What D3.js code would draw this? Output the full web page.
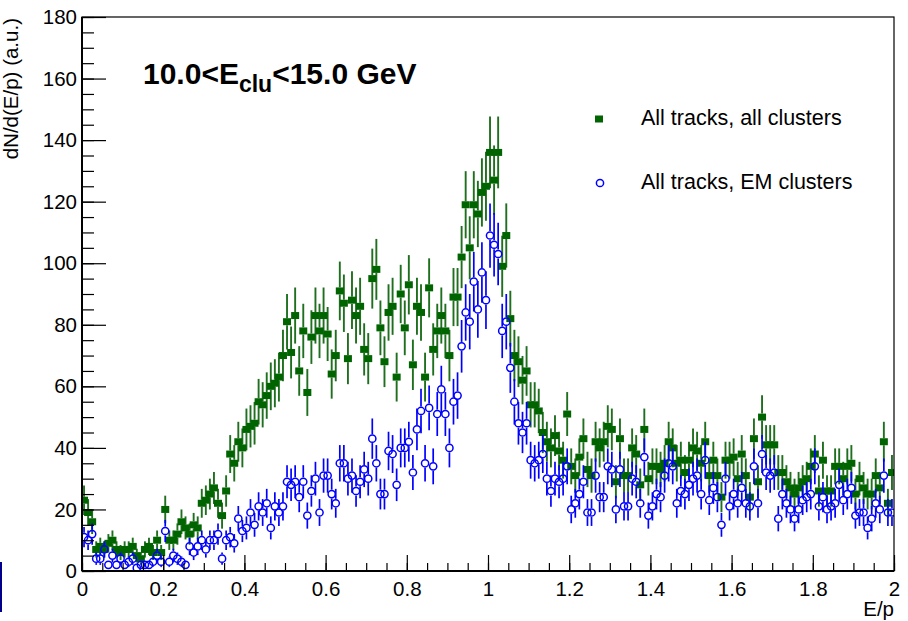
<!DOCTYPE html>
<html>
<head>
<meta charset="utf-8">
<script src="https://cdn.jsdelivr.net/npm/d3@7"></script>
<style>
  html, body { margin: 0; padding: 0; background: #fff; }
  svg { display: block; font-family: "Liberation Sans", Arial, Helvetica, sans-serif; }
</style>
</head>
<body>
<svg id="chart" width="908" height="621"></svg>
<script>
// E/p histogram, 200 bins of width 0.01 between 0 and 2
const binWidth = 0.01;
const xDomain = [0, 2];
const yDomain = [0, 180];

// Counts per bin: all tracks matched to any cluster
const allClusters = [
  23,19,16,7,8,7,9,10,7,6,
  7,7,8,5,4,7,8,6,10,6,
  20,10,10,12,16,14,12,15,14,22,
  23,25,27,22,18,26,38,35,42,40,
  46,47,48,55,54,57,60,61,63,70,
  81,71,83,65,78,58,76,83,78,83,
  77,64,70,91,87,69,88,83,86,72,
  69,95,98,79,68,84,86,63,90,79,
  93,67,86,84,63,92,72,78,83,78,
  70,89,89,102,119,105,119,116,123,125,
  136,127,136,99,109,82,70,68,62,65,
  54,54,52,45,42,40,44,39,36,51,
  34,31,37,43,33,31,42,40,42,47,
  46,29,43,31,31,40,38,28,46,30,
  34,34,33,35,42,40,35,36,32,36,
  40,39,35,42,31,36,31,24,36,36,
  37,30,38,31,24,43,29,50,41,41,
  41,32,32,29,27,25,27,29,30,34,
  38,26,36,26,26,34,34,30,34,35,
  25,30,27,25,25,31,27,42,22,32
];

// Counts per bin: all tracks matched to EM clusters
const emClusters = [
  11,10,12,4,4,7,2,5,2,4,
  2,3,4,1,2,2,2,3,5,3,
  13,3,5,4,3,2,8,6,8,10,
  7,10,10,12,4,10,11,9,17,13,
  14,19,15,21,19,22,14,21,19,21,
  29,28,29,24,29,18,26,30,19,31,
  31,25,22,35,35,30,31,26,29,33,
  30,43,35,25,25,39,38,28,40,40,
  42,32,46,52,35,53,34,51,59,51,
  40,55,57,73,84,81,94,85,97,88,
  109,106,103,78,81,66,55,48,45,48,
  36,35,36,38,30,26,30,29,30,34,
  20,22,25,29,19,19,31,24,24,34,
  33,20,33,21,21,30,29,22,37,18,
  21,25,24,31,35,34,22,26,25,28,
  30,31,25,36,23,27,24,15,30,21,
  25,22,27,22,21,34,22,38,32,31,
  32,17,25,22,20,17,20,23,24,25,
  34,21,24,20,21,22,28,23,25,27,
  18,19,19,14,17,22,20,31,19,19
];

const seriesNames = ["All tracks, all clusters", "All tracks, EM clusters"];
const xTickValues = [0, 0.2, 0.4, 0.6, 0.8, 1, 1.2, 1.4, 1.6, 1.8, 2];
const xTickLabels = ["0", "0.2", "0.4", "0.6", "0.8", "1", "1.2", "1.4", "1.6", "1.8", "2"];
const yTickValues = [0, 20, 40, 60, 80, 100, 120, 140, 160, 180];
const yTickLabels = ["0", "20", "40", "60", "80", "100", "120", "140", "160", "180"];
const xMinorStep = 0.05;
const yMinorStep = 5;

const xTitle = "E/p";
const yTitle = "dN/d(E/p) (a.u.)";

const colGreen = "#006400";
const colGreenBar = "#1f6f1f";
const colBlue = "#0000ff";

const svg = d3.select("#chart");
const W = 908, H = 621;
const margin = { left: 82, right: 14, top: 17, bottom: 50 };

svg.append("rect").attr("width", W).attr("height", H).attr("fill", "#fff");

const x = d3.scaleLinear().domain(xDomain).range([margin.left, W - margin.right]);
const y = d3.scaleLinear().domain(yDomain).range([H - margin.bottom, margin.top]);

const plot = svg.append("g");
const clipId = "plotClip";
svg.append("defs").append("clipPath").attr("id", clipId)
  .append("rect")
  .attr("x", x(xDomain[0])).attr("y", y(yDomain[1]))
  .attr("width", x(xDomain[1]) - x(xDomain[0]))
  .attr("height", y(yDomain[0]) - y(yDomain[1]));

const toPoints = counts => counts.map((v, i) => ({
  xc: (i + 0.5) * binWidth,
  v: v,
  e: Math.sqrt(v)
}));

// Vertical error bars that stop at the marker edge
function drawErrors(g, pts, color, gap, width) {
  const segs = [];
  pts.forEach(p => {
    const cx = x(p.xc), cy = y(p.v);
    const top = y(p.v + p.e), bot = y(Math.max(0, p.v - p.e));
    if (cy - gap > top) segs.push([cx, top, cx, cy - gap]);
    if (bot > cy + gap) segs.push([cx, cy + gap, cx, bot]);
  });
  g.selectAll(null).data(segs).enter().append("line")
    .attr("x1", d => d[0]).attr("y1", d => d[1])
    .attr("x2", d => d[2]).attr("y2", d => d[3])
    .attr("stroke", color).attr("stroke-width", width);
}

const dataG = plot.append("g").attr("clip-path", `url(#${clipId})`);

// All clusters: filled squares
const sqW = 8, sqH = 7;
const greenPts = toPoints(allClusters);
const gG = dataG.append("g");
drawErrors(gG, greenPts, colGreenBar, 3.5, 1.9);
gG.selectAll("rect").data(greenPts).enter().append("rect")
  .attr("x", d => x(d.xc) - sqW / 2).attr("y", d => y(d.v) - sqH / 2)
  .attr("width", sqW).attr("height", sqH)
  .attr("fill", colGreen);

// EM clusters: open circles
const circR = 3.6;
const bluePts = toPoints(emClusters);
const gB = dataG.append("g");
drawErrors(gB, bluePts, colBlue, circR + 0.8, 1.7);
gB.selectAll("circle").data(bluePts).enter().append("circle")
  .attr("cx", d => x(d.xc)).attr("cy", d => y(d.v))
  .attr("r", circR)
  .attr("fill", "none").attr("stroke", colBlue).attr("stroke-width", 1.5);

// Axes with inward ticks
const fontSize = 20.5;
const yAxis = d3.axisLeft(y).tickValues(yTickValues)
  .tickFormat((d, i) => yTickLabels[i]).tickSize(-24).tickPadding(5);
const yMinor = d3.axisLeft(y).tickValues(d3.range(yDomain[0], yDomain[1] + 0.001, yMinorStep))
  .tickFormat("").tickSize(-12);
const xAxis = d3.axisBottom(x).tickValues(xTickValues)
  .tickFormat((d, i) => xTickLabels[i]).tickSize(-16).tickPadding(10);
const xMinor = d3.axisBottom(x).tickValues(d3.range(xDomain[0], xDomain[1] + 0.0001, xMinorStep))
  .tickFormat("").tickSize(-8);

function styleAxis(g) {
  g.select(".domain").remove();
  g.selectAll("line").attr("stroke", "#000").attr("stroke-width", 1.2);
  g.selectAll("text").attr("fill", "#000").attr("font-size", fontSize)
    .attr("font-family", "'Liberation Sans', Arial, Helvetica, sans-serif");
}

svg.append("g").attr("transform", `translate(${margin.left},0)`).call(yMinor).call(styleAxis);
svg.append("g").attr("transform", `translate(${margin.left},0)`).call(yAxis).call(styleAxis);
svg.append("g").attr("transform", `translate(0,${H - margin.bottom})`).call(xMinor).call(styleAxis);
svg.append("g").attr("transform", `translate(0,${H - margin.bottom})`).call(xAxis).call(styleAxis);

// Frame
svg.append("rect")
  .attr("x", x(xDomain[0])).attr("y", y(yDomain[1]))
  .attr("width", x(xDomain[1]) - x(xDomain[0]))
  .attr("height", y(yDomain[0]) - y(yDomain[1]))
  .attr("fill", "none").attr("stroke", "#000").attr("stroke-width", 1.2);
svg.append("line")
  .attr("x1", x(xDomain[0])).attr("x2", x(xDomain[0]))
  .attr("y1", y(yDomain[0])).attr("y2", y(yDomain[1]))
  .attr("stroke", "#000").attr("stroke-width", 2);
svg.append("line")
  .attr("x1", x(xDomain[0])).attr("x2", x(xDomain[1]))
  .attr("y1", y(yDomain[0])).attr("y2", y(yDomain[0]))
  .attr("stroke", "#000").attr("stroke-width", 2);

// Axis titles
svg.append("text")
  .attr("x", x(xDomain[1])).attr("y", 616)
  .attr("text-anchor", "end").attr("font-size", fontSize)
  .text(xTitle);
svg.append("text")
  .attr("transform", `translate(18,${y(yDomain[1]) + 1}) rotate(-90)`)
  .attr("text-anchor", "end").attr("font-size", fontSize)
  .text(yTitle);

// Energy range label
const title = svg.append("text")
  .attr("x", 143).attr("y", 84)
  .attr("font-size", 30).attr("font-weight", "bold");
title.append("tspan").text("10.0<E");
title.append("tspan").attr("font-size", 23).attr("dy", 8).text("clu");
title.append("tspan").attr("dy", -8).text("<15.0 GeV");

// Legend
const legend = svg.append("g");
legend.append("rect")
  .attr("x", 599 - sqW / 2).attr("y", 119 - sqH / 2).attr("width", sqW).attr("height", sqH)
  .attr("fill", colGreen);
legend.append("circle")
  .attr("cx", 600).attr("cy", 183).attr("r", circR)
  .attr("fill", "none").attr("stroke", colBlue).attr("stroke-width", 1.5);
legend.append("text").attr("x", 641).attr("y", 125)
  .attr("font-size", 21.5).text(seriesNames[0]);
legend.append("text").attr("x", 641).attr("y", 189)
  .attr("font-size", 21.5).text(seriesNames[1]);

// Thin navy rule at the lower left edge of the canvas
svg.append("rect").attr("x", 0).attr("y", 562).attr("width", 2).attr("height", 50)
  .attr("fill", "#00008b");
</script>
</body>
</html>
